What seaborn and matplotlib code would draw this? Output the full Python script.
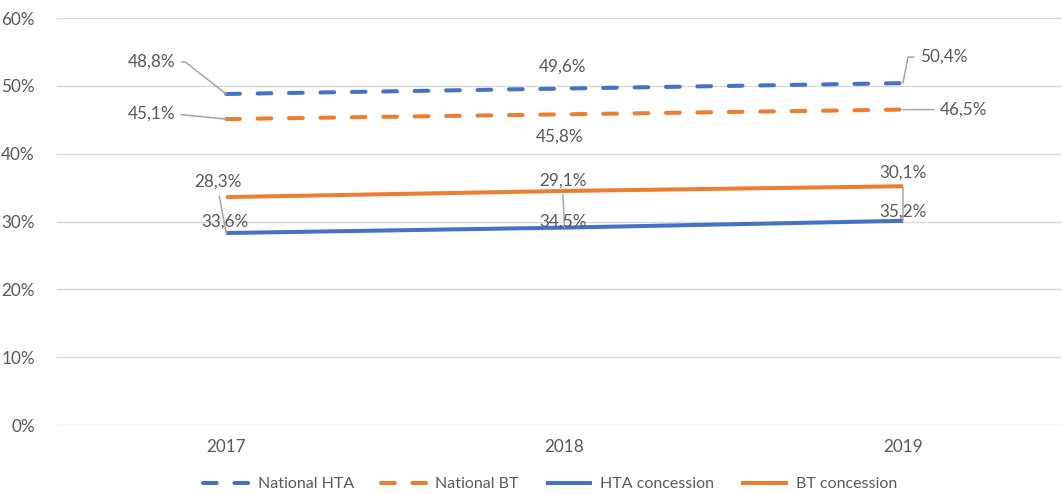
import matplotlib
matplotlib.use("Agg")
import matplotlib.pyplot as plt
import seaborn as sns
import pandas as pd

years = ["2017", "2018", "2019"]
series_names = ["National HTA", "National BT", "HTA concession", "BT concession"]
national_hta = [48.8, 49.6, 50.4]
national_bt = [45.1, 45.8, 46.5]
hta_concession = [28.3, 29.1, 30.1]
bt_concession = [33.6, 34.5, 35.2]
yticks = [0, 10, 20, 30, 40, 50, 60]

values = [national_hta, national_bt, hta_concession, bt_concession]
colors = {"National HTA": "#4472C4", "National BT": "#ED7D31",
          "HTA concession": "#4472C4", "BT concession": "#ED7D31"}
dashes = {"National HTA": (3.4, 4.4), "National BT": (3.4, 4.4),
          "HTA concession": "", "BT concession": ""}

rows = []
for name, vals in zip(series_names, values):
    for i, v in enumerate(vals):
        rows.append({"series": name, "x": i, "value": v})
df = pd.DataFrame(rows)

sns.set_theme(style="white")
plt.rcParams["font.family"] = ["Lato", "DejaVu Sans"]
txt = "#595959"
fs = 12.3

fig = plt.figure(figsize=(10.62, 4.94), dpi=100)
ax = fig.add_axes([57/1062, 1-425/494, 1-57/1062, (425-18)/494])

sns.lineplot(data=df, x="x", y="value", hue="series", style="series",
             hue_order=series_names, style_order=series_names,
             palette=colors, dashes=dashes, linewidth=2.9, ax=ax, legend=False)
for ln in ax.lines:
    ln.set_dash_capstyle("round")
    ln.set_solid_capstyle("butt")

ax.set_xlim(-0.5, 2.47)
ax.set_ylim(0, 60)
ax.set_yticks(yticks)
ax.set_yticklabels([f"{t}%" for t in yticks])
ax.set_xticks(range(len(years)))
ax.set_xticklabels(years)
ax.tick_params(axis="both", length=0, labelsize=fs, labelcolor=txt)
ax.tick_params(axis="y", pad=16)
ax.tick_params(axis="x", pad=10)
ax.set_xlabel("")
ax.set_ylabel("")
ax.grid(axis="y", color="#d9d9d9", linewidth=1)
ax.set_axisbelow(True)
for s in ax.spines.values():
    s.set_visible(False)

def fmt(v):
    return f"{v:.1f}".replace(".", ",") + "%"

# label placement: (dx, dy) in pixels, ha, leader, connection style, relpos
lab_cfg = {
    "National HTA": [(-51, 32, "right", True, "arc,angleA=0,angleB=0,armA=10,armB=0,rad=0", (1, 0.5)),
                     (-2, 22, "center", False, None, None),
                     (17, 26, "left", True, "arc,angleA=180,angleB=0,armA=12,armB=0,rad=0", (0, 0.5))],
    "National BT": [(-51, 5, "right", True, None, (1, 0.5)),
                    (-5, -22, "center", False, None, None),
                    (37, 0, "left", True, None, (0, 0.5))],
    "HTA concession": [(-8, 51, "center", True, None, (0.5, 0)),
                       (-2, 47, "center", True, None, (0.5, 0)),
                       (0, 48, "center", True, None, (0.5, 0))],
    "BT concession": [(-1, -25, "center", False, None, None),
                      (-2, -31, "center", False, None, None),
                      (0, -25, "center", False, None, None)],
}

for name, vals in zip(series_names, values):
    for i, v in enumerate(vals):
        dx, dy, ha, leader, cs, rp = lab_cfg[name][i]
        kw = {}
        if leader:
            ap = dict(arrowstyle="-", color="#a6a6a6", lw=1.1, shrinkA=2, shrinkB=0)
            if cs:
                ap["connectionstyle"] = cs
            if rp:
                ap["relpos"] = rp
            kw["arrowprops"] = ap
        ax.annotate(fmt(v), xy=(i, v), xytext=(dx, dy), textcoords="offset pixels",
                    ha=ha, va="center", fontsize=fs, color=txt, zorder=5, **kw)

handles = ax.lines[:4]
leg = fig.legend(handles, series_names, loc="center", bbox_to_anchor=(0.518, 10/494),
                 ncol=4, frameon=False, fontsize=11.5, handlelength=2.9, columnspacing=1.7,
                 handletextpad=0.5)
for t in leg.get_texts():
    t.set_color(txt)

fig.savefig("out.png", dpi=100)
